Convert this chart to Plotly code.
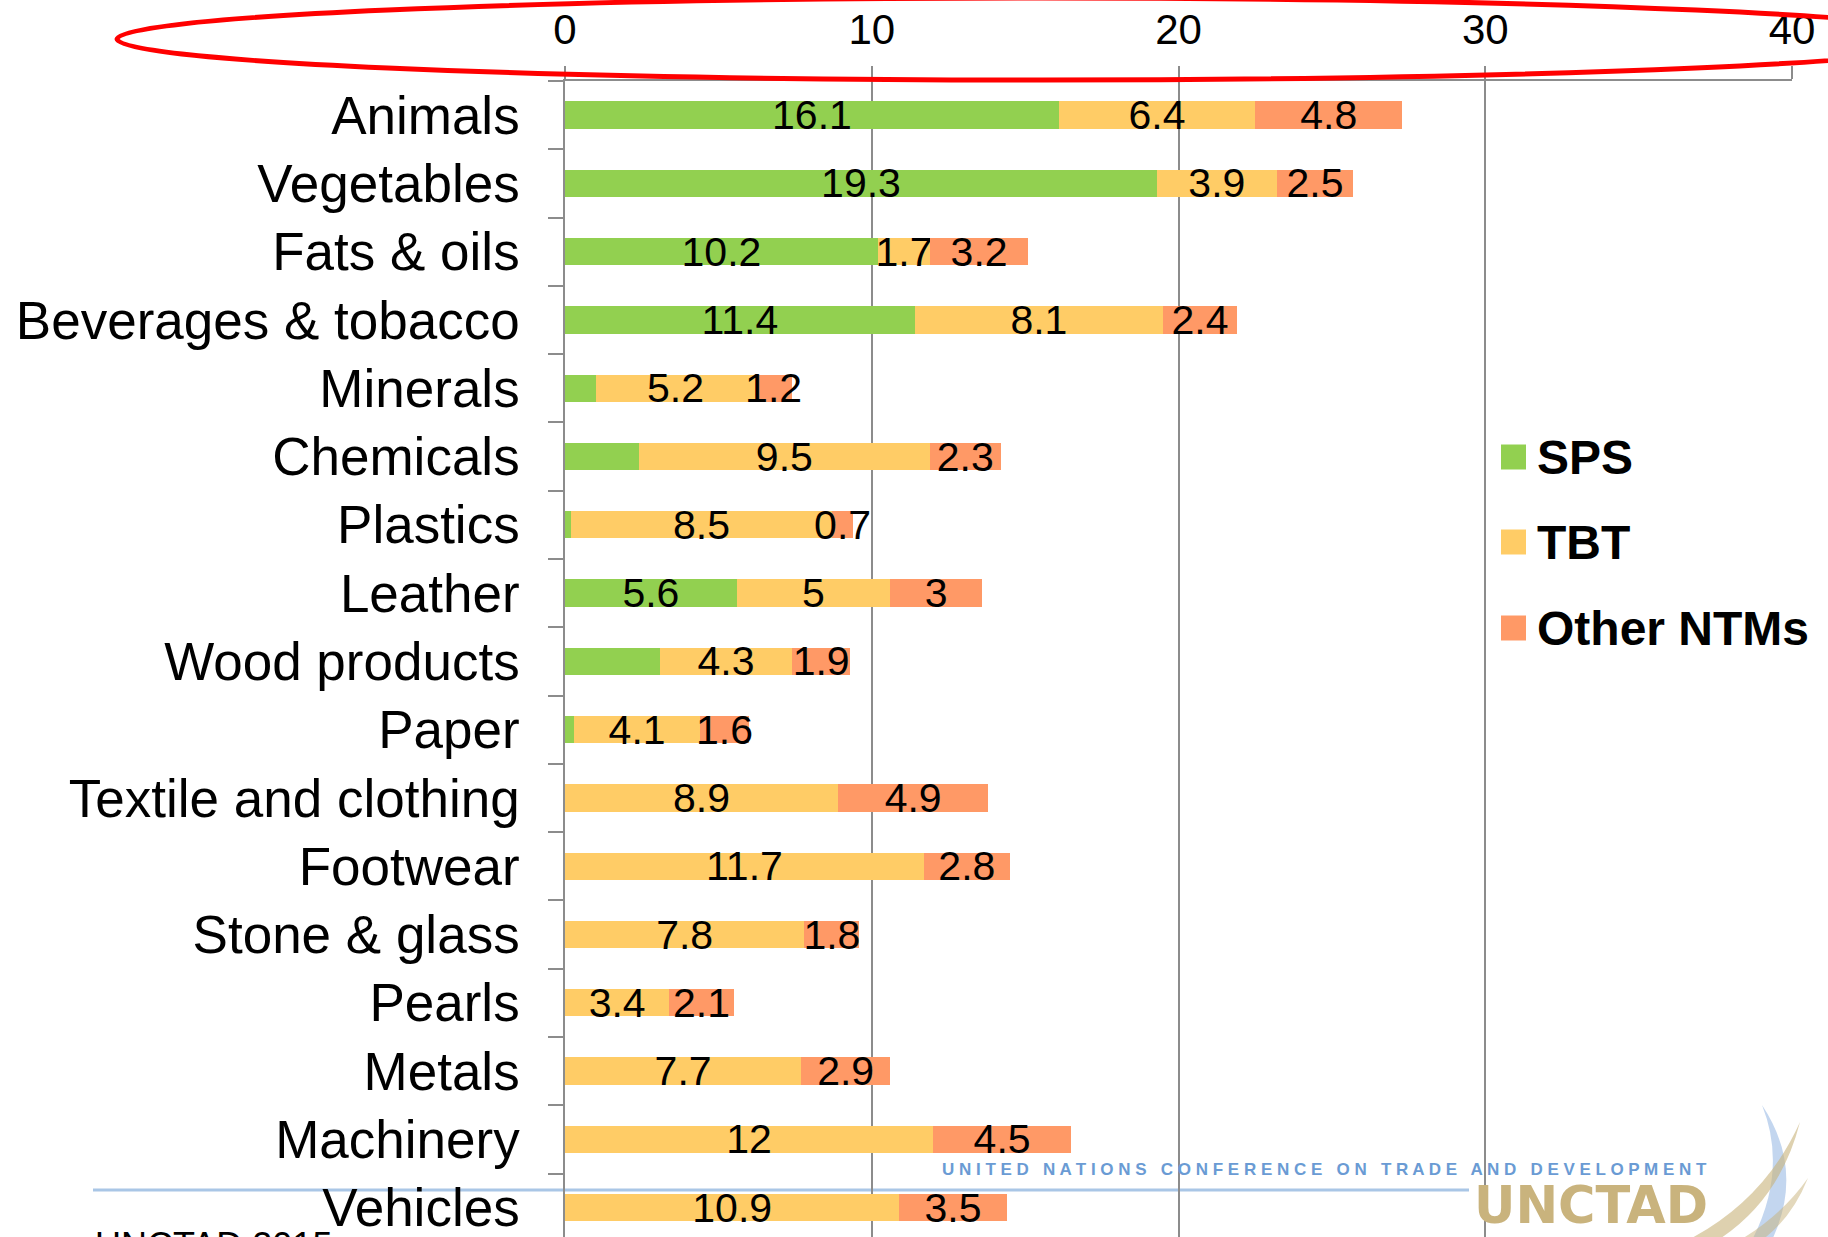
import plotly.graph_objects as go

# ---------------- data ----------------
categories = ["Animals", "Vegetables", "Fats & oils", "Beverages & tobacco", "Minerals",
              "Chemicals", "Plastics", "Leather", "Wood products", "Paper",
              "Textile and clothing", "Footwear", "Stone & glass", "Pearls", "Metals",
              "Machinery", "Vehicles"]
sps = [16.1, 19.3, 10.2, 11.4, 1.0, 2.4, 0.2, 5.6, 3.1, 0.3, 0, 0, 0, 0, 0, 0, 0]
tbt = [6.4, 3.9, 1.7, 8.1, 5.2, 9.5, 8.5, 5, 4.3, 4.1, 8.9, 11.7, 7.8, 3.4, 7.7, 12, 10.9]
other = [4.8, 2.5, 3.2, 2.4, 1.2, 2.3, 0.7, 3, 1.9, 1.6, 4.9, 2.8, 1.8, 2.1, 2.9, 4.5, 3.5]
# SPS values that carry a visible label in the original chart
sps_labelled = [True, True, True, True, False, False, False, True, False, False,
                False, False, False, False, False, False, False]
series_names = ["SPS", "TBT", "Other NTMs"]
series_colors = ["#92D050", "#FFCC66", "#FF9966"]
x_ticks = [0, 10, 20, 30, 40]

# ---------------- layout geometry ----------------
W, H = 1828, 1237
L, R, T, B = 565, 36, 81, 0
PW, PH = W - L - R, H - T - B
FONT = "Liberation Sans, Arial, sans-serif"


def px(x):
    return (x - L) / PW


def py(y):
    return 1 - (y - T) / PH


def fmt(v):
    return ("%g" % v)


fig = go.Figure()
series_vals = [sps, tbt, other]
for name, vals, col in zip(series_names, series_vals, series_colors):
    if name == "SPS":
        texts = [fmt(v) if show else "" for v, show in zip(vals, sps_labelled)]
    else:
        texts = [fmt(v) if v > 0 else "" for v in vals]
    fig.add_trace(go.Bar(
        name=name, y=categories, x=vals, orientation="h",
        marker=dict(color=col, line=dict(width=0)),
        width=0.4,
        text=texts, textposition="inside", insidetextanchor="middle",
        textangle=0, constraintext="none", cliponaxis=False,
        textfont=dict(family=FONT, size=41, color="black"),
        showlegend=False,
    ))

shapes = []
annotations = []

# manual legend (large square swatches)
leg_y = [457, 542, 628]
for name, col, yc in zip(series_names, series_colors, leg_y):
    shapes.append(dict(type="rect", xref="paper", yref="paper",
                       x0=px(1501), x1=px(1526), y0=py(yc + 12.5), y1=py(yc - 12.5),
                       fillcolor=col, line=dict(width=0)))
    annotations.append(dict(xref="paper", yref="paper", x=px(1535), y=py(yc),
                            xanchor="left", yanchor="middle", showarrow=False,
                            text="<b>%s</b>" % name,
                            font=dict(family=FONT, size=48, color="black")))

# red ellipse highlighting the axis
shapes.append(dict(type="circle", xref="paper", yref="paper",
                   x0=px(117), x1=px(1967), y0=py(80), y1=py(-2),
                   line=dict(color="#FF0000", width=5), layer="above"))

# footer decorations (UNCTAD slide template)
shapes.append(dict(type="line", xref="paper", yref="paper",
                   x0=px(93), x1=px(1469), y0=py(1190), y1=py(1190),
                   line=dict(color="#A9C6E6", width=3), layer="below"))


def path(points_cmds):
    out = []
    for cmd in points_cmds:
        if cmd[0] in ("M", "L"):
            out.append("%s %.5f,%.5f" % (cmd[0], px(cmd[1]), py(cmd[2])))
        elif cmd[0] == "Q":
            out.append("Q %.5f,%.5f %.5f,%.5f" % (px(cmd[1]), py(cmd[2]), px(cmd[3]), py(cmd[4])))
        elif cmd[0] == "Z":
            out.append("Z")
    return " ".join(out)


shapes.append(dict(type="path", xref="paper", yref="paper",
                   path=path([("M", 1762, 1105), ("Q", 1805, 1170, 1772, 1240),
                              ("L", 1752, 1240), ("Q", 1788, 1170, 1762, 1105), ("Z",)]),
                   fillcolor="#A9C4E8", opacity=0.7, line=dict(width=0)))
shapes.append(dict(type="path", xref="paper", yref="paper",
                   path=path([("M", 1688, 1240), ("Q", 1765, 1200, 1800, 1122),
                              ("Q", 1780, 1200, 1718, 1240), ("Z",)]),
                   fillcolor="#C8B27A", opacity=0.6, line=dict(width=0)))
shapes.append(dict(type="path", xref="paper", yref="paper",
                   path=path([("M", 1740, 1240), ("Q", 1782, 1215, 1808, 1178),
                              ("Q", 1792, 1218, 1762, 1240), ("Z",)]),
                   fillcolor="#C8B27A", opacity=0.5, line=dict(width=0)))

un_text = "   ".join(" ".join(list(w)) for w in
                     "UNITED NATIONS CONFERENCE ON TRADE AND DEVELOPMENT".split())
annotations.append(dict(xref="paper", yref="paper", x=px(1324), y=py(1169),
                        xanchor="center", yanchor="middle", showarrow=False,
                        text="<b>%s</b>" % un_text,
                        font=dict(family=FONT, size=17, color="#6A9BD4")))
annotations.append(dict(xref="paper", yref="paper", x=px(1591), y=py(1205),
                        xanchor="center", yanchor="middle", showarrow=False,
                        text="<b>UNCTAD</b>",
                        font=dict(family="DejaVu Sans, sans-serif", size=51, color="#C9B37D")))
annotations.append(dict(xref="paper", yref="paper", x=px(93), y=py(1223),
                        xanchor="left", yanchor="top", showarrow=False,
                        text="UNCTAD 2015",
                        font=dict(family=FONT, size=36, color="black")))

fig.update_layout(
    width=W, height=H,
    margin=dict(l=L, r=R, t=T, b=B, pad=0),
    paper_bgcolor="white", plot_bgcolor="white",
    barmode="stack", bargap=0.6,
    shapes=shapes, annotations=annotations,
    showlegend=False,
    font=dict(family=FONT, color="black"),
    uniformtext=dict(mode=False),
)
fig.update_xaxes(
    side="top", range=[0, 40], tickvals=x_ticks, ticktext=[str(t) for t in x_ticks],
    showgrid=True, gridcolor="#8C8C8C", gridwidth=1.5, zeroline=False,
    showline=True, linecolor="#8C8C8C", linewidth=2,
    ticks="outside", ticklen=13, tickwidth=1.5, tickcolor="#8C8C8C",
    ticklabelstandoff=5,
    tickfont=dict(family=FONT, size=42, color="black"),
    automargin=False, fixedrange=True,
)
fig.update_yaxes(
    type="category", categoryorder="array", categoryarray=categories,
    range=[16.43, -0.5], showgrid=False, zeroline=False,
    showline=True, linecolor="#8C8C8C", linewidth=1.5,
    ticks="outside", ticklen=15, tickwidth=1.5, tickcolor="#8C8C8C",
    tickson="boundaries", ticklabelstandoff=33,
    tickfont=dict(family=FONT, size=53, color="black"),
    automargin=False, fixedrange=True,
)

fig.write_html("out.html", config={"displayModeBar": False},
               post_script="document.body.style.margin='0px';document.body.style.overflow='hidden';")
